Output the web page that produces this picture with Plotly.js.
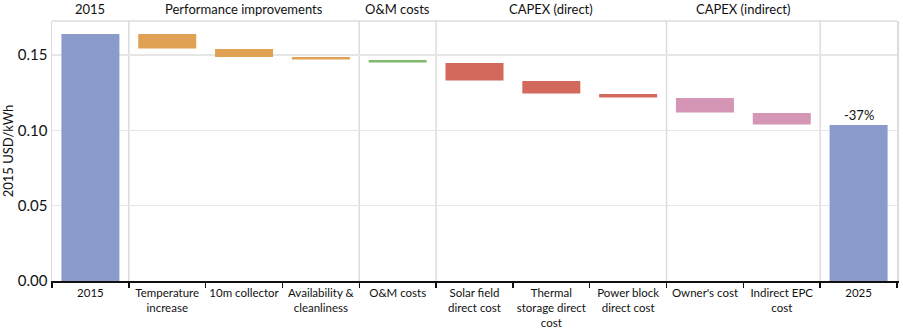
<!DOCTYPE html>
<html>
<head>
<meta charset="utf-8">
<script src="https://cdn.plot.ly/plotly-3.0.1.min.js"></script>
<style>html,body{margin:0;padding:0;background:#fff}#chart{width:903px;height:333px}</style>
</head>
<body>
<div id="chart"></div>
<script>
// ---- data ----
const categories = ["2015", "Temperature increase", "10m collector", "Availability & cleanliness", "O&M costs",
  "Solar field direct cost", "Thermal storage direct cost", "Power block direct cost", "Owner's cost", "Indirect EPC cost", "2025"];
const tickLabels = ["2015", "Temperature<br>increase", "10m collector", "Availability &<br>cleanliness", "O&M costs",
  "Solar field<br>direct cost", "Thermal<br>storage direct<br>cost", "Power block<br>direct cost", "Owner's cost", "Indirect EPC<br>cost", "2025"];
const barTop =    [0.1640, 0.1640, 0.1540, 0.1487, 0.1467, 0.1447, 0.1327, 0.1241, 0.1215, 0.1115, 0.1035];
const barBottom = [0.0000, 0.1543, 0.1487, 0.1470, 0.1450, 0.1331, 0.1244, 0.1218, 0.1118, 0.1039, 0.0000];
const barGroup =  ["total", "perf", "perf", "perf", "om", "capexd", "capexd", "capexd", "capexi", "capexi", "total"];
const groupNames = ["2015", "Performance improvements", "O&M costs", "CAPEX (direct)", "CAPEX (indirect)"];
const groupFirst = [0, 1, 4, 5, 8];
const groupLast  = [0, 3, 4, 7, 9];
const changeLabel = "-37%";

const groupColors = {total: "#8A9BCB", perf: "#E0A155", om: "#7FB86E", capexd: "#D3695C", capexi: "#D595B5"};

const trace = {
  type: "bar",
  x: categories,
  y: barTop.map((t, i) => t - barBottom[i]),
  base: barBottom,
  width: 0.755,
  marker: {color: barGroup.map(g => groupColors[g])},
  hoverinfo: "skip"
};

const annotations = groupNames.map((n, i) => ({
  text: n, xref: "x", yref: "paper", x: (groupFirst[i] + groupLast[i]) / 2, y: 1, yshift: 2,
  yanchor: "bottom", showarrow: false, font: {size: 13, color: "#111"}
}));
annotations.push({
  text: changeLabel, xref: "x", yref: "y", x: categories.length - 1, y: barTop[barTop.length - 1],
  yanchor: "bottom", showarrow: false, font: {size: 13, color: "#111"}, yshift: 0
});

const seps = [0.5, 3.5, 4.5, 7.5, 9.5];
const shapes = seps.map(s => ({type: "line", xref: "x", yref: "paper", x0: s, x1: s, y0: 0, y1: 1,
  line: {color: "#dcdcdc", width: 1.5}, layer: "below"}));
shapes.push({type: "line", xref: "paper", yref: "paper", x0: 0, x1: 1, y0: 1, y1: 1, line: {color: "#dcdcdc", width: 1.5}});

const layout = {
  width: 903, height: 333,
  margin: {l: 52, r: 6, t: 21, b: 52},
  paper_bgcolor: "#fff", plot_bgcolor: "#fff",
  font: {family: "Lato, 'Open Sans', sans-serif", color: "#111"},
  showlegend: false,
  xaxis: {
    type: "category", tickmode: "array", tickvals: categories, ticktext: tickLabels,
    tickson: "boundaries", ticks: "outside", ticklen: 5, tickwidth: 1.5, tickcolor: "#111",
    tickangle: 0, automargin: false,
    showgrid: false, showline: true, linecolor: "#111", linewidth: 2,
    tickfont: {size: 11.5}, range: [-0.5, 10.5], fixedrange: true
  },
  yaxis: {
    range: [0, 0.1726], tickvals: [0, 0.05, 0.10, 0.15], tickformat: ".2f",
    showgrid: true, gridcolor: "#e6e6e6", gridwidth: 1.5, zeroline: false,
    showline: true, linecolor: "#dcdcdc", linewidth: 1.5, mirror: true,
    tickfont: {size: 15}, ticks: "", automargin: false,
    title: {text: "2015 USD/kWh", font: {size: 13}, standoff: 6}
  },
  annotations: annotations,
  shapes: shapes
};

Plotly.newPlot("chart", [trace], layout, {displayModeBar: false, staticPlot: true});
</script>
</body>
</html>
